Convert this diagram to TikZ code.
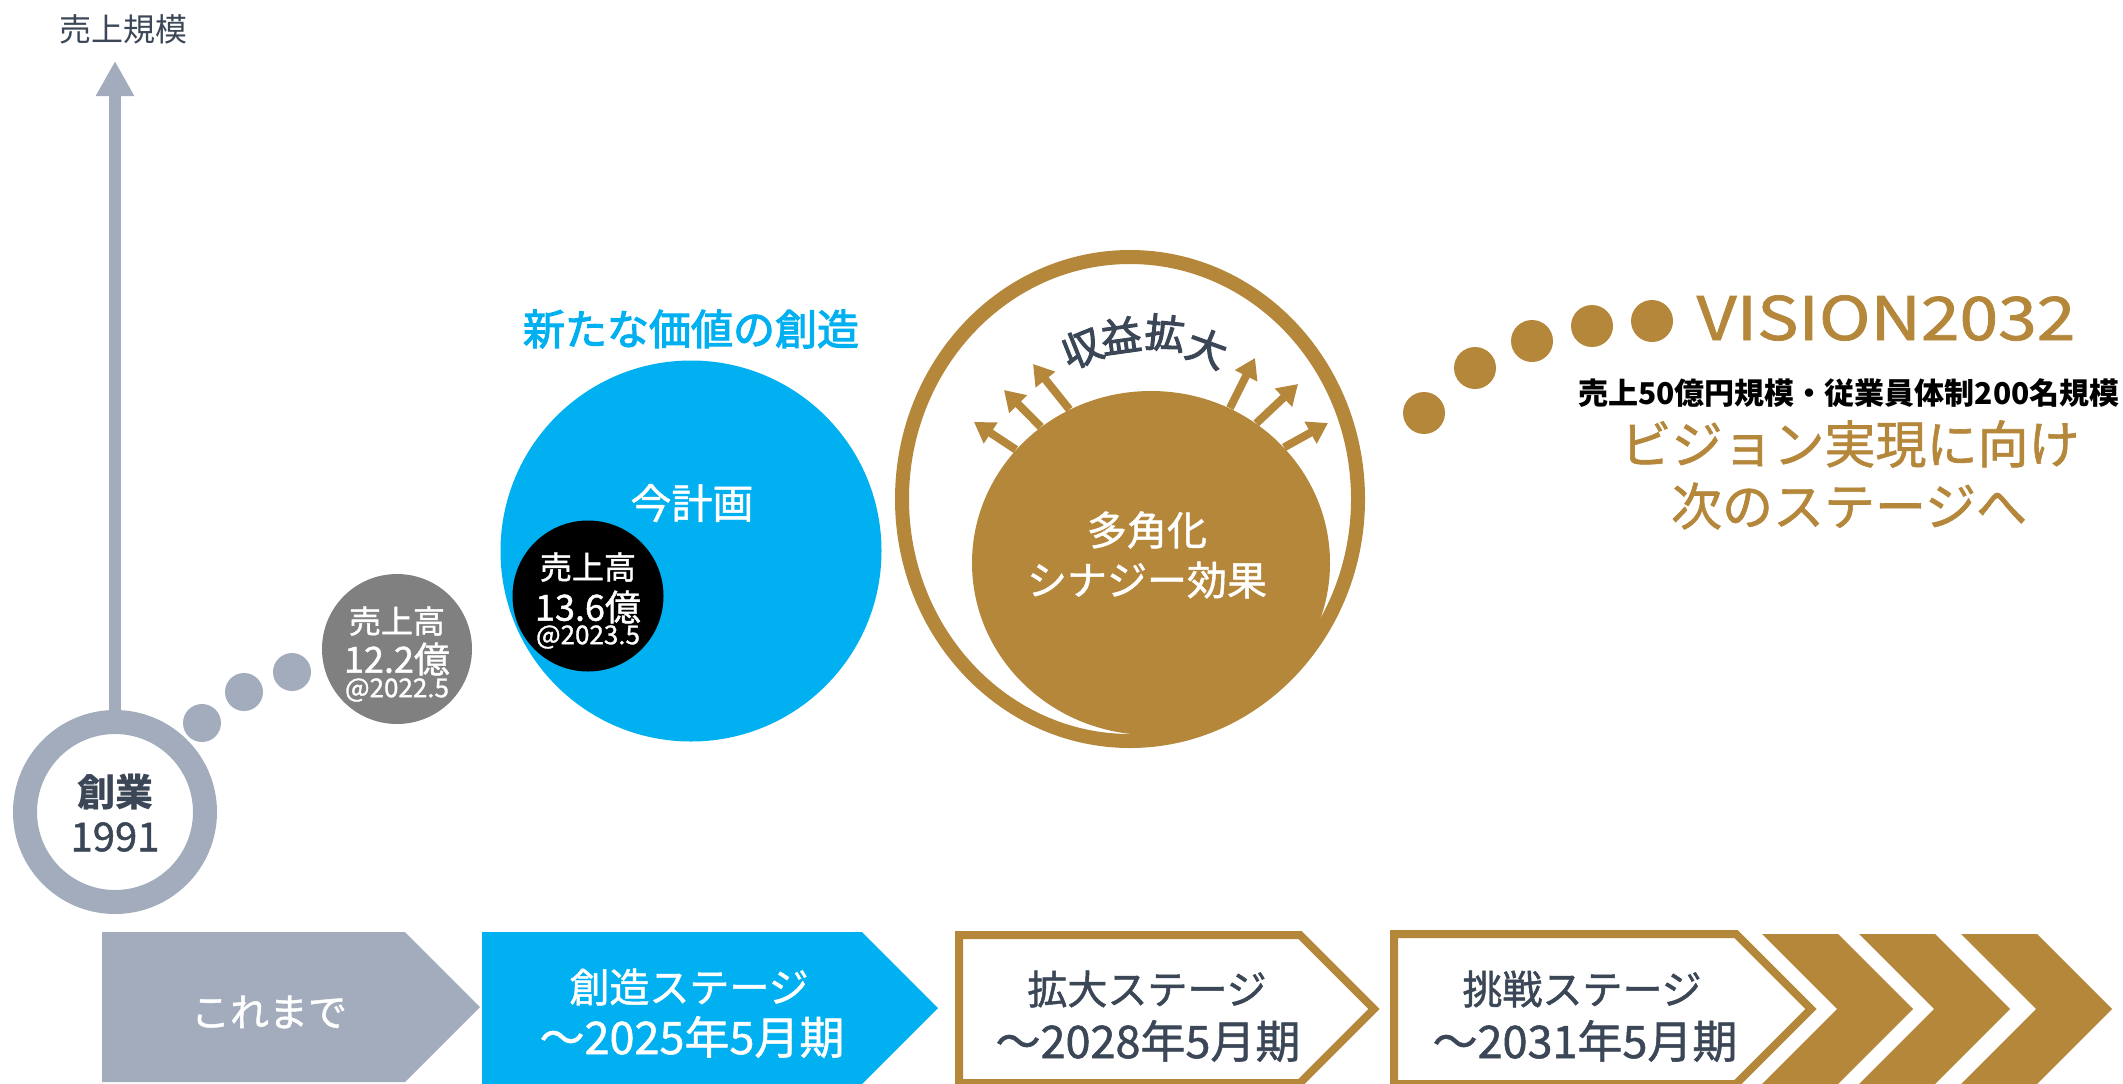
\documentclass[tikz,border=0pt]{standalone}
\usepackage{fontspec}
\usepackage{graphicx}
\setmainfont{Noto Sans CJK JP}
\newfontfamily\med{Noto Sans CJK JP}[FakeBold=1.2]
\newfontfamily\semi{Noto Sans CJK JP}[FakeBold=2.6]
\usetikzlibrary{arrows.meta,shapes.geometric}
\definecolor{slate}{HTML}{A2ACBD}
\definecolor{ink}{HTML}{3B4656}
\definecolor{sky}{HTML}{00B0F0}
\definecolor{gold}{HTML}{B5873B}
\definecolor{midgray}{HTML}{808080}
\newcommand\arcchar[1]{\raisebox{-7.6pt}[0pt][0pt]{\makebox[16pt]{#1}}}
\tikzset{
  txt/.style={inner sep=0pt, anchor=center},
  fs/.style={font=\med\fontsize{#1}{#1}\selectfont},
  sfs/.style={font=\semi\fontsize{#1}{#1}\selectfont},
  goldarrow/.style={gold, line width=4pt, -{Triangle[width=12pt,length=10pt]}},
  outlinechev/.style={draw=gold, line width=4pt, fill=white, line join=miter},
}
\begin{document}
\begin{tikzpicture}[x=0.5pt,y=-0.5pt]
\useasboundingbox (0,0) rectangle (2123,1083);
\fill[white] (0,0) rectangle (2123,1083);

% ---------- stage chevrons ----------
\begin{scope}
\clip (0,0) rectangle (2123,1083);
\fill[slate] (102,932) -- (405,932) -- (480,1007) -- (405,1082) -- (102,1082) -- cycle;
\fill[sky] (482,932) -- (862,932) -- (938,1008) -- (862,1084) -- (482,1084) -- cycle;
\draw[outlinechev] (959,935) -- (1300,935) -- (1374,1009) -- (1300,1083) -- (959,1083) -- cycle;
\draw[outlinechev] (1394,934) -- (1736,934) -- (1811,1009) -- (1736,1084) -- (1394,1084) -- cycle;
\foreach \x in {1762,1859,1961}{
  \fill[gold] (\x,934) -- ({\x+76},934) -- ({\x+151},1009) -- ({\x+76},1084) -- (\x,1084) -- ({\x+75},1009) -- cycle;
}
\end{scope}
\node[txt, fs=19.5, text=white] (stage0) at (269,1012) {これまで};
\node[txt, fs=20, text=white] (stage1a) at (689,987) {創造ステージ};
\node[txt, fs=22.5, text=white] (stage1b) at (692,1037) {～2025年5月期};
\node[txt, fs=20, text=ink] (stage2a) at (1147,989) {拡大ステージ};
\node[txt, fs=22.5, text=ink] (stage2b) at (1148,1041) {～2028年5月期};
\node[txt, fs=20, text=ink] (stage3a) at (1582,989) {挑戦ステージ};
\node[txt, fs=22.5, text=ink] (stage3b) at (1585,1041) {～2031年5月期};

% ---------- axis and founding ring ----------
\node[txt, font=\fontsize{16}{16}\selectfont, text=ink] (axislabel) at (123,29) {売上規模};
\node[circle, draw=slate, line width=12pt, fill=white, minimum size=90pt, inner sep=0pt] (ring) at (115,812) {};
\coordinate (axistop) at (115,61);
\draw[slate, line width=6pt, -{Triangle[width=18pt,length=17.5pt]}] (ring.north) -- (axistop);
\node[txt, font=\bfseries\fontsize{19}{19}\selectfont, text=ink] (founded) at (115,792) {創業};
\node[txt, fs=20, text=ink] (year) at (115,837) {1991};

% dots to 2022
\fill[slate] (202,723) circle (19);
\fill[slate] (244,692) circle (19);
\fill[slate] (292,672) circle (19);

% ---------- 2022 circle ----------
\node[circle, fill=midgray, minimum size=75pt, inner sep=0pt] (sales22) at (397,649) {};
\node[txt, fs=16, text=white] (s22a) at (397,621) {売上高};
\node[txt, fs=18, text=white] (s22b) at (397,659) {12.2億};
\node[txt, fs=13, text=white] (s22c) at (397,690) {@2022.5};

% ---------- creation plan ----------
\node[txt, sfs=21, text=sky] (plantitle) at (691,329) {新たな価値の創造};
\node[circle, fill=sky, minimum size=190.5pt, inner sep=0pt] (plan) at (691,551) {};
\node[txt, fs=20.5, text=white] (plantext) at (692,503) {今計画};
\node[circle, fill=black, minimum size=75.5pt, inner sep=0pt] (sales23) at (588,596) {};
\node[txt, fs=16, text=white] (s23a) at (588,567) {売上高};
\node[txt, fs=18, text=white] (s23b) at (588,607) {13.6億};
\node[txt, fs=13, text=white] (s23c) at (588,637) {@2023.5};

% ---------- expansion ----------
\node[ellipse, draw=gold, line width=7pt, minimum width=228pt, minimum height=242pt, inner sep=0pt] (outer) at (1130,499) {};
\node[ellipse, fill=gold, minimum width=179pt, minimum height=172pt, inner sep=0pt] (core) at (1151,563) {};
\node[txt, fs=20, text=white] (corea) at (1147,530) {多角化};
\node[txt, fs=20, text=white] (coreb) at (1147,580) {シナジー効果};
\node[txt, sfs=20, text=ink, rotate=22] (k1) at (1082,348) {\arcchar{収}};
\node[txt, sfs=20, text=ink, rotate=8] (k2) at (1121,336) {\arcchar{益}};
\node[txt, sfs=20, text=ink, rotate=-6] (k3) at (1165,333) {\arcchar{拡}};
\node[txt, sfs=20, text=ink, rotate=-20] (k4) at (1207,348) {\arcchar{大}};
\coordinate (g1) at (974,422);
\coordinate (g2) at (1004,390);
\coordinate (g3) at (1033,364);
\coordinate (g4) at (1255,358);
\coordinate (g5) at (1298,384);
\coordinate (g6) at (1328,423);
\draw[goldarrow] (core.140) -- (g1);
\draw[goldarrow] (core.129) -- (g2);
\draw[goldarrow] (core.118) -- (g3);
\draw[goldarrow] (core.63) -- (g4);
\draw[goldarrow] (core.53) -- (g5);
\draw[goldarrow] (core.41) -- (g6);

% ---------- vision ----------
\fill[gold] (1424,413) circle (21);
\fill[gold] (1475,368) circle (21);
\fill[gold] (1532,341) circle (21);
\fill[gold] (1592,326) circle (21);
\fill[gold] (1652,321) circle (21);
\node[txt, fs=30, text=gold] (vision) at (1886,318) {\scalebox{1.16}[1]{VISION2032}};
\node[txt, font=\bfseries\fontsize{15}{15}\selectfont, text=black] (visiona) at (1849,393) {売上50億円規模・従業員体制200名規模};
\node[txt, fs=25.5, text=gold] (visionb) at (1850,444) {ビジョン実現に向け};
\node[txt, fs=25.5, text=gold] (visionc) at (1849,506) {次のステージへ};
\end{tikzpicture}
\end{document}
